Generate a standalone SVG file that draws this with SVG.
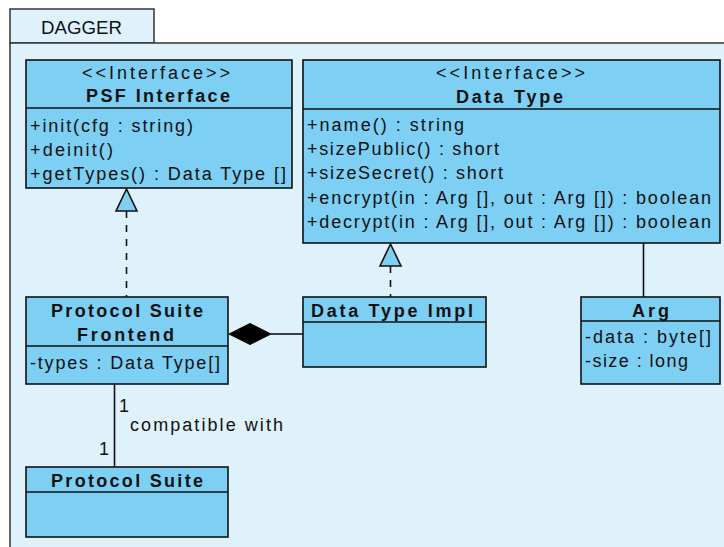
<svg xmlns="http://www.w3.org/2000/svg" width="724" height="547" viewBox="0 0 724 547">
<style>
.pkg{fill:#dff1fb;stroke:#333;stroke-width:1.5}
.box{fill:#7dcff3;stroke:#111;stroke-width:1.6}
.div{stroke:#111;stroke-width:1.6}
text{font-family:"Liberation Sans",Arial,sans-serif;font-size:18px;fill:#111}
.b{font-weight:bold}
.t{font-size:19px}
.ln{stroke:#111;stroke-width:1.6;fill:none}
.dash{stroke:#111;stroke-width:1.6;fill:none;stroke-dasharray:7 7}
.tri{fill:#7dcff3;stroke:#111;stroke-width:1.6}
.dia{fill:#000;stroke:#000;stroke-width:1}
</style>
<g id="package">
<rect class="pkg" x="10" y="9" width="144" height="34"/>
<rect class="pkg" x="10" y="43" width="730" height="520"/>
<text class="t" x="41" y="34" textLength="81" lengthAdjust="spacingAndGlyphs">DAGGER</text>
</g>
<g id="connectors">
<line class="dash" x1="126.5" y1="211" x2="126.5" y2="297"/>
<polygon class="tri" points="126.5,189 116,211 137,211"/>
<line class="dash" x1="390.5" y1="266" x2="390.5" y2="297"/>
<polygon class="tri" points="390.5,244 380,266 401,266"/>
<line class="ln" x1="271" y1="334" x2="303" y2="334"/>
<polygon class="dia" points="229,334 250,323.5 271,334 250,344.5"/>
<line class="ln" x1="643.5" y1="243" x2="643.5" y2="297"/>
<line class="ln" x1="114.5" y1="384" x2="114.5" y2="467"/>
<text x="119" y="412">1</text>
<text x="130" y="431" textLength="153" lengthAdjust="spacing">compatible with</text>
<text x="99" y="455">1</text>
</g>
<g id="psf-interface">
<rect class="box" x="26" y="60" width="266" height="128"/>
<line class="div" x1="26" y1="108" x2="292" y2="108"/>
<text x="82" y="79" textLength="148" lengthAdjust="spacing">&lt;&lt;Interface&gt;&gt;</text>
<text class="b" x="86" y="102" textLength="144" lengthAdjust="spacing">PSF Interface</text>
<text x="30" y="132" textLength="163" lengthAdjust="spacing">+init(cfg : string)</text>
<text x="30" y="156" textLength="83" lengthAdjust="spacing">+deinit()</text>
<text x="30" y="180" textLength="256" lengthAdjust="spacing">+getTypes() : Data Type []</text>
</g>
<g id="data-type">
<rect class="box" x="303" y="60" width="417" height="183"/>
<line class="div" x1="303" y1="109" x2="720" y2="109"/>
<text x="436" y="78.5" textLength="149" lengthAdjust="spacing">&lt;&lt;Interface&gt;&gt;</text>
<text class="b" x="456" y="102.5" textLength="107" lengthAdjust="spacing">Data Type</text>
<text x="307" y="131" textLength="157" lengthAdjust="spacing">+name() : string</text>
<text x="307" y="155" textLength="192" lengthAdjust="spacing">+sizePublic() : short</text>
<text x="307" y="179" textLength="196" lengthAdjust="spacing">+sizeSecret() : short</text>
<text x="307" y="204" textLength="404" lengthAdjust="spacing">+encrypt(in : Arg [], out : Arg []) : boolean</text>
<text x="307" y="228" textLength="404" lengthAdjust="spacing">+decrypt(in : Arg [], out : Arg []) : boolean</text>
</g>
<g id="protocol-suite-frontend">
<rect class="box" x="26" y="297" width="202" height="87"/>
<line class="div" x1="26" y1="346" x2="228" y2="346"/>
<text class="b" x="51" y="317" textLength="152" lengthAdjust="spacing">Protocol Suite</text>
<text class="b" x="77" y="341" textLength="97" lengthAdjust="spacing">Frontend</text>
<text x="30" y="369" textLength="190" lengthAdjust="spacing">-types : Data Type[]</text>
</g>
<g id="data-type-impl">
<rect class="box" x="303" y="297" width="183" height="70"/>
<line class="div" x1="303" y1="322" x2="486" y2="322"/>
<text class="b" x="311" y="317" textLength="162" lengthAdjust="spacing">Data Type Impl</text>
</g>
<g id="arg">
<rect class="box" x="581" y="297" width="139" height="87"/>
<line class="div" x1="581" y1="321" x2="720" y2="321"/>
<text class="b" x="632" y="317" textLength="37" lengthAdjust="spacing">Arg</text>
<text x="585" y="343" textLength="126" lengthAdjust="spacing">-data : byte[]</text>
<text x="585" y="367" textLength="103" lengthAdjust="spacing">-size : long</text>
</g>
<g id="protocol-suite">
<rect class="box" x="26" y="467" width="202" height="70"/>
<line class="div" x1="26" y1="492" x2="228" y2="492"/>
<text class="b" x="51" y="487" textLength="152" lengthAdjust="spacing">Protocol Suite</text>
</g>
</svg>
